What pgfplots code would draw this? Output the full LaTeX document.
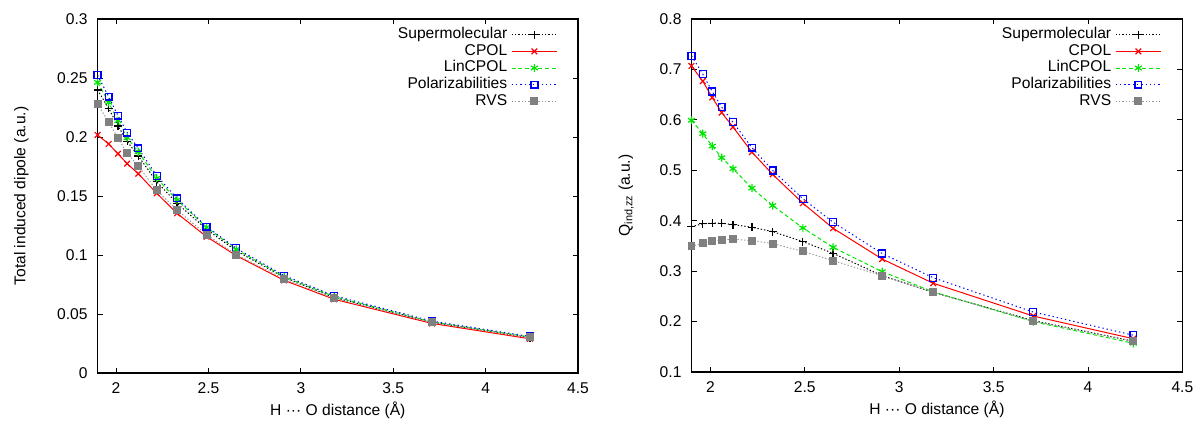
\documentclass[border=0pt]{standalone}
\usepackage{fontspec}
\setmainfont{Liberation Sans}
\usepackage{pgfplots}
\pgfplotsset{compat=1.18}

\newcommand{\fsz}{\fontsize{11.7}{14}\selectfont}
\definecolor{gpgreen}{RGB}{0,230,0}
\definecolor{gpgray}{RGB}{128,128,128}

\pgfplotsset{
  gp/.style={
    scale only axis,
    xmin=1.9, xmax=4.5,
    xtick={2,2.5,3,3.5,4,4.5},
    tick align=inside,
    axis line style={line width=0.8pt},
    major tick style={line width=0.6pt, black},
    major tick length=4pt,
    tick label style={font=\fsz},
    /pgf/number format/assume math mode=true,
    xticklabel style={yshift=-4pt},
    yticklabel style={xshift=-4pt, /pgf/number format/fixed, /pgf/number format/precision=2},
    scaled y ticks=false,
    label style={font=\fsz},
    xlabel={H ··· O distance (Å)},
    xlabel style={at={(axis description cs:0.5,0)}, anchor=center, yshift=-27.75pt},
    legend plot pos=right,
    legend cell align=right,
    legend style={at={(0.958,0.98)}, anchor=north east, draw=none, fill=none,
      inner sep=0pt, row sep=0pt, column sep=2pt,
      nodes={inner sep=1pt, text height=8.2pt, text depth=2.3pt, font=\fsz}},
    legend image code/.code={\draw[mark repeat=2,mark phase=2]
      plot coordinates {(0pt,0pt) (17pt,0pt) (34pt,0pt)};},
  },
  sm/.style={black, line width=0.75pt, dash pattern=on 1pt off 1.5pt, mark=+, mark size=3pt, mark options={solid, line width=0.9pt}},
  cp/.style={red, line width=0.75pt, solid, mark=x, mark size=3pt, mark options={line width=0.9pt}},
  lc/.style={gpgreen, line width=0.75pt, dash pattern=on 3pt off 2pt, mark=asterisk, mark size=3pt, mark options={solid, line width=0.9pt}},
  po/.style={blue, line width=0.75pt, dash pattern=on 1pt off 2.2pt, mark=square, mark size=2.6pt, mark options={solid, line width=1pt}},
  rv/.style={gpgray!80, line width=0.75pt, dash pattern=on 1pt off 1.5pt, mark=square*, mark size=2.6pt, mark options={solid, fill=gpgray, draw=gpgray}},
}

\pgfplotstableread{
x     sm      cp      lc      po      rv
1.90  0.2398  0.2017  0.2463  0.2523  0.2280
1.96  0.2243  0.1941  0.2294  0.2342  0.2125
2.01  0.2093  0.1858  0.2138  0.2181  0.1992
2.06  0.1963  0.1774  0.1994  0.2037  0.1864
2.12  0.1839  0.1689  0.1875  0.1904  0.1754
2.22  0.1621  0.1523  0.1650  0.1672  0.1548
2.33  0.1438  0.1353  0.1466  0.1480  0.1381
2.49  0.1218  0.1155  0.1235  0.1240  0.1172
2.65  0.1035  0.0995  0.1048  0.1057  0.1003
2.91  0.0810  0.0785  0.0815  0.0825  0.0797
3.18  0.0640  0.0625  0.0648  0.0655  0.0633
3.71  0.0430  0.0420  0.0433  0.0440  0.0430
4.24  0.0300  0.0290  0.0305  0.0310  0.0303
}\dipole

\pgfplotstableread{
x     sm      cp      lc      po      rv
1.90  0.3884  0.7070  0.5992  0.7270  0.3493
1.96  0.3938  0.6767  0.5727  0.6906  0.3552
2.01  0.3950  0.6443  0.5480  0.6562  0.3592
2.06  0.3950  0.6145  0.5250  0.6250  0.3620
2.12  0.3924  0.5858  0.5031  0.5952  0.3632
2.22  0.3870  0.5361  0.4646  0.5449  0.3606
2.33  0.3784  0.4918  0.4301  0.4997  0.3546
2.49  0.3586  0.4347  0.3857  0.4435  0.3393
2.65  0.3353  0.3850  0.3472  0.3970  0.3208
2.91  0.2910  0.3240  0.2990  0.3350  0.2910
3.18  0.2580  0.2760  0.2590  0.2870  0.2580
3.71  0.2020  0.2110  0.2000  0.2190  0.2010
4.24  0.1610  0.1660  0.1570  0.1730  0.1610
}\quad

\begin{document}
\begin{tikzpicture}
\useasboundingbox (0,0) rectangle (898.5pt,318.75pt);

\begin{axis}[gp,
  at={(73.2pt,39pt)}, anchor=south west,
  width=360.3pt, height=265.5pt,
  ymin=0, ymax=0.3,
  ytick={0,0.05,0.1,0.15,0.2,0.25,0.3},
  ylabel={Total induced dipole (a.u.)},
  ylabel style={at={(axis description cs:-0.159,0.5)}, anchor=center},
]
\addplot[sm] table[x=x, y=sm] {\dipole};
\addlegendentry{Supermolecular}
\addplot[cp] table[x=x, y=cp] {\dipole};
\addlegendentry{CPOL}
\addplot[lc] table[x=x, y=lc] {\dipole};
\addlegendentry{LinCPOL}
\addplot[po] table[x=x, y=po] {\dipole};
\addlegendentry{Polarizabilities}
\addplot[rv] table[x=x, y=rv] {\dipole};
\addlegendentry{RVS}
\end{axis}

\begin{axis}[gp,
  at={(518.6pt,39.75pt)}, anchor=south west,
  width=368.2pt, height=264.75pt,
  ymin=0.1, ymax=0.8,
  ytick={0.1,0.2,0.3,0.4,0.5,0.6,0.7,0.8},
  ylabel={Q\textsubscript{ind,zz} (a.u.)},
  ylabel style={at={(axis description cs:-0.133,0.5)}, anchor=center},
]
\addplot[sm] table[x=x, y=sm] {\quad};
\addlegendentry{Supermolecular}
\addplot[cp] table[x=x, y=cp] {\quad};
\addlegendentry{CPOL}
\addplot[lc] table[x=x, y=lc] {\quad};
\addlegendentry{LinCPOL}
\addplot[po] table[x=x, y=po] {\quad};
\addlegendentry{Polarizabilities}
\addplot[rv] table[x=x, y=rv] {\quad};
\addlegendentry{RVS}
\end{axis}
\end{tikzpicture}
\end{document}
